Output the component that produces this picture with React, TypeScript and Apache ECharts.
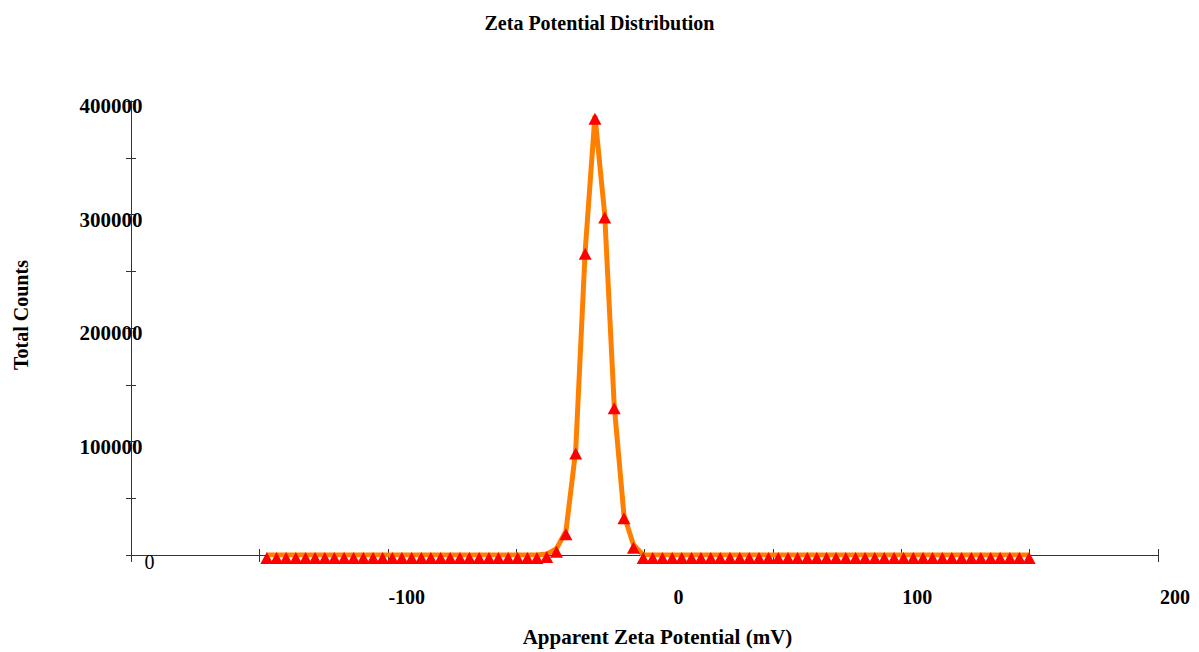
import React, { useEffect, useRef } from "react";
import * as echarts from "echarts";

const title = "Zeta Potential Distribution";
const xAxisName = "Apparent Zeta Potential (mV)";
const yAxisName = "Total Counts";

// Apparent zeta potential (mV) of each measured point
const zetaValues = [
  -147.1, -143.3, -139.6, -135.8, -132.0, -128.3, -124.5, -120.8, -117.0, -113.3,
  -109.5, -105.7, -102.0, -98.2, -94.5, -90.7, -86.9, -83.2, -79.4, -75.7,
  -71.9, -68.2, -64.4, -60.6, -56.9, -53.1, -49.4, -45.6, -41.9, -38.1,
  -34.3, -30.6, -26.8, -23.1, -19.3, -15.5, -11.8, -8.0, -4.3, -0.5,
  3.2, 7.0, 10.8, 14.5, 18.3, 22.0, 25.8, 29.5, 33.3, 37.1,
  40.8, 44.6, 48.3, 52.1, 55.9, 59.6, 63.4, 67.1, 70.9, 74.6,
  78.4, 82.2, 85.9, 89.7, 93.4, 97.2, 100.9, 104.7, 108.5, 112.2,
  116.0, 119.7, 123.5, 127.3, 131.0, 134.8, 138.5, 142.3, 146.0, 149.8,
];

// Total counts at each point
const totalCounts = [
  0, 0, 0, 0, 0, 0, 0, 0, 0, 0,
  0, 0, 0, 0, 0, 0, 0, 0, 0, 0,
  0, 0, 0, 0, 0, 0, 0, 0, 0, 800,
  5500, 21000, 92000, 268000, 387000, 300000, 132000, 35000, 9000, 0,
  0, 0, 0, 0, 0, 0, 0, 0, 0, 0,
  0, 0, 0, 0, 0, 0, 0, 0, 0, 0,
  0, 0, 0, 0, 0, 0, 0, 0, 0, 0,
  0, 0, 0, 0, 0, 0, 0, 0, 0, 0,
];

const xTickLabels = [-100, 0, 100, 200];
const yTickLabels = [0, 100000, 200000, 300000, 400000];

const SERIF = "'Liberation Serif', 'Times New Roman', serif";

export default function App() {
  const ref = useRef<HTMLDivElement>(null);

  useEffect(() => {
    if (!ref.current) return;
    const chart = echarts.init(ref.current, null, { renderer: "svg" });

    const data = zetaValues.map((x, i) => [x, totalCounts[i]]);
    const xRichKey: Record<string, string> = { "-100": "a", "0": "c", "100": "d", "200": "e" };
    const boldLabel = { fontFamily: SERIF, fontWeight: "bold" as const, fontSize: 20, color: "#000" };

    const option: any = {
      animation: false,
      backgroundColor: "#fff",
      title: {
        text: title,
        left: "center",
        top: 8,
        textStyle: { ...boldLabel, fontSize: 20 },
      },
      grid: { left: 131, right: 41, top: 101, bottom: 97 },
      xAxis: [
        {
          type: "value",
          min: -200,
          max: 200,
          interval: 50,
          position: "bottom",
          name: xAxisName,
          nameLocation: "middle",
          nameGap: 71,
          nameTextStyle: { ...boldLabel, fontSize: 21, padding: [0, 0, 0, 26] },
          axisLine: { show: true, onZero: false, lineStyle: { color: "#333", width: 1 } },
          axisTick: { show: true, inside: false, length: 7, lineStyle: { color: "#333" } },
          splitLine: { show: false },
          axisLabel: {
            margin: 32,
            align: "center",
            formatter: (v: number) => {
              if (!xTickLabels.includes(v)) return "";
              return "{" + xRichKey[String(v)] + "|" + v + "}";
            },
            rich: {
              a: { ...boldLabel, padding: [0, 0, 0, 38] },
              c: { ...boldLabel, padding: [0, 0, 0, 68] },
              d: { ...boldLabel, padding: [0, 0, 0, 32] },
              e: { ...boldLabel, padding: [0, 0, 0, 34] },
            },
          },
        },
        {
          type: "value",
          min: -200,
          max: 200,
          interval: 50,
          position: "bottom",
          axisLine: { show: false, onZero: false },
          axisTick: { show: true, inside: true, length: 6, lineStyle: { color: "#333" } },
          axisLabel: { show: false },
          splitLine: { show: false },
        },
      ],
      yAxis: [
        {
          type: "value",
          min: 0,
          max: 400000,
          interval: 50000,
          position: "left",
          name: yAxisName,
          nameLocation: "middle",
          nameRotate: 90,
          nameGap: 100,
          nameTextStyle: { ...boldLabel, padding: [0, 0, 0, 26] },
          axisLine: { show: true, onZero: false, lineStyle: { color: "#333", width: 1 } },
          axisTick: { show: true, inside: false, length: 5, lineStyle: { color: "#333" } },
          splitLine: { show: false },
          axisLabel: {
            margin: 20,
            align: "center",
            formatter: (v: number) => {
              if (!yTickLabels.includes(v)) return "";
              return v === 0 ? "{z|0}" : "{b|" + v + "}";
            },
            rich: {
              b: { ...boldLabel, fontSize: 21, padding: [10, 0, 0, 0] },
              z: { fontFamily: SERIF, fontWeight: "normal", fontSize: 20, color: "#000", padding: [14, 0, 0, 77] },
            },
          },
        },
        {
          type: "value",
          min: 0,
          max: 400000,
          interval: 50000,
          position: "left",
          axisLine: { show: false, onZero: false },
          axisTick: { show: true, inside: true, length: 5, lineStyle: { color: "#333" } },
          axisLabel: { show: false },
          splitLine: { show: false },
        },
      ],
      series: [
        {
          type: "line",
          xAxisIndex: 0,
          yAxisIndex: 0,
          data,
          symbol: "triangle",
          symbolSize: [13, 12],
          symbolOffset: [0, 3],
          showAllSymbol: true,
          itemStyle: { color: "#FF0000" },
          lineStyle: { color: "#FF8000", width: 5 },
          z: 3,
        },
      ],
    };

    chart.setOption(option);
    return () => chart.dispose();
  }, []);

  return (
    <div
      ref={ref}
      style={{ position: "fixed", left: 0, top: 0, width: 1199, height: 652, background: "#fff" }}
    />
  );
}
